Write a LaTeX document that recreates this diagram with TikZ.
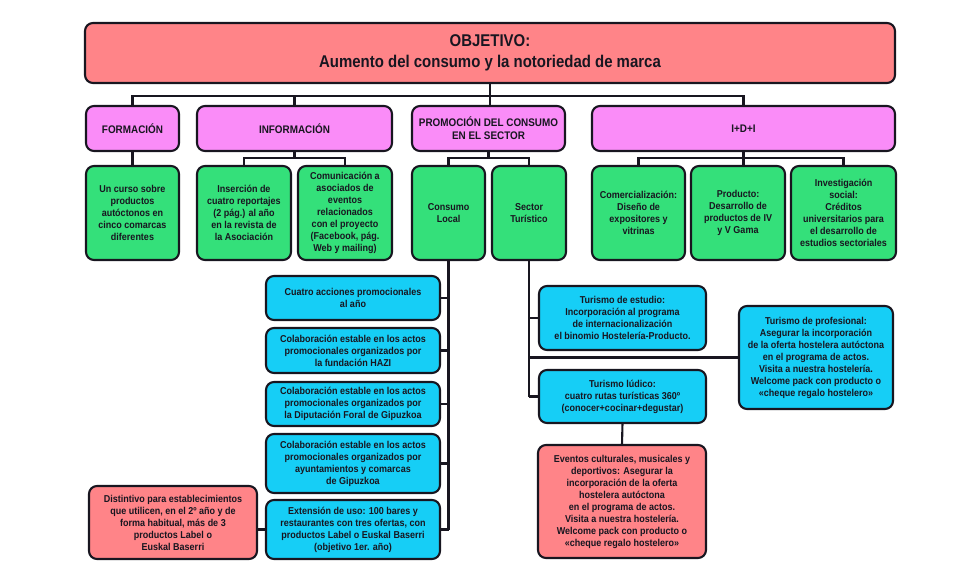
\documentclass[tikz,border=0pt]{standalone}
\usepackage{fontspec}
\setmainfont{Liberation Sans}[FakeStretch=0.9]
\newfontfamily\headfont{Liberation Sans}[FakeStretch=0.88]
\definecolor{objred}{RGB}{255,132,136}
\definecolor{catpink}{RGB}{250,140,248}
\definecolor{actgreen}{RGB}{52,224,122}
\definecolor{actblue}{RGB}{22,206,246}
\definecolor{inkdark}{RGB}{24,22,32}
\tikzset{
  basebox/.style={draw=inkdark, line width=2.1pt, rounded corners=8pt, align=center,
    inner sep=2pt, outer sep=0pt, text=inkdark, font=\bfseries\fontsize{10}{12}\selectfont},
  objbox/.style={basebox, fill=objred, font=\headfont\bfseries\fontsize{17}{21}\selectfont},
  catbox/.style={basebox, fill=catpink, font=\bfseries\fontsize{11}{13}\selectfont},
  greenbox/.style={basebox, fill=actgreen},
  bluebox/.style={basebox, fill=actblue},
  redbox/.style={basebox, fill=objred},
  link/.style={draw=inkdark, line width=2.1pt},
}
\begin{document}
\begin{tikzpicture}[x=1pt,y=1pt,yscale=-1]
\useasboundingbox (0,0) rectangle (980,573);

% Objective
\node[objbox, minimum width=810, minimum height=60] (obj) at (490,53) {OBJETIVO:\\Aumento del consumo y la notoriedad de marca};

% Categories
\node[catbox, minimum width=93, minimum height=45] (form) at (132.5,128.5) {FORMACIÓN};
\node[catbox, minimum width=195, minimum height=45] (info) at (294.5,128.5) {INFORMACIÓN};
\node[catbox, minimum width=153, minimum height=45] (prom) at (488.5,128.5) {PROMOCIÓN DEL CONSUMO\\EN EL SECTOR};
\node[catbox, minimum width=303, minimum height=45] (idi) at (743.5,128.5) {I+D+I};

% Actions (green)
\node[greenbox, minimum width=93, minimum height=94] (frm1) at (132.5,213) {Un curso sobre\\productos\\autóctonos en\\cinco comarcas\\diferentes};
\node[greenbox, minimum width=94, minimum height=94] (inf1) at (244,213) {Inserción de\\cuatro reportajes\\(2 pág.) al año\\en la revista de\\la Asociación};
\node[greenbox, minimum width=94, minimum height=94] (inf2) at (345,213) {Comunicación a\\asociados de\\eventos\\relacionados\\con el proyecto\\(Facebook, pág.\\Web y mailing)};
\node[greenbox, minimum width=73, minimum height=94] (cloc) at (448.5,213) {Consumo\\Local};
\node[greenbox, minimum width=74, minimum height=94] (stur) at (529,213) {Sector\\Turístico};
\node[greenbox, minimum width=93, minimum height=94] (idi1) at (638.5,213) {Comercialización:\\Diseño de\\expositores y\\vitrinas};
\node[greenbox, minimum width=94, minimum height=94] (idi2) at (738,213) {Producto:\\Desarrollo de\\productos de IV\\y V Gama};
\node[greenbox, minimum width=105, minimum height=94] (idi3) at (843.5,213) {Investigación\\social:\\Créditos\\universitarios para\\el desarrollo de\\estudios sectoriales};

% Consumo local (blue)
\node[bluebox, minimum width=174, minimum height=44] (acc1) at (353,298) {Cuatro acciones promocionales\\al año};
\node[bluebox, minimum width=174, minimum height=45] (acc2) at (353,350.5) {Colaboración estable en los actos\\promocionales organizados por\\la fundación HAZI};
\node[bluebox, minimum width=174, minimum height=44] (acc3) at (353,404) {Colaboración estable en los actos\\promocionales organizados por\\la Diputación Foral de Gipuzkoa};
\node[bluebox, minimum width=174, minimum height=59] (acc4) at (353,463.5) {Colaboración estable en los actos\\promocionales organizados por\\ayuntamientos y comarcas\\de Gipuzkoa};
\node[bluebox, minimum width=174, minimum height=59] (ext) at (353,529.5) {Extensión de uso: 100 bares y\\restaurantes con tres ofertas, con\\productos Label o Euskal Baserri\\(objetivo 1er. año)};
\node[redbox, minimum width=168, minimum height=73] (dist) at (173,522.5) {Distintivo para establecimientos\\que utilicen, en el 2º año y de\\forma habitual, más de 3\\productos Label o\\Euskal Baserri};

% Sector turistico (blue)
\node[bluebox, minimum width=167, minimum height=64] (est) at (622.5,318) {Turismo de estudio:\\Incorporación al programa\\de internacionalización\\el binomio Hostelería-Producto.};
\node[bluebox, minimum width=154, minimum height=103] (prof) at (816,357.5) {Turismo de profesional:\\Asegurar la incorporación\\de la oferta hostelera autóctona\\en el programa de actos.\\Visita a nuestra hostelería.\\Welcome pack con producto o\\«cheque regalo hostelero»};
\node[bluebox, minimum width=167, minimum height=53] (lud) at (622.5,396.5) {Turismo lúdico:\\cuatro rutas turísticas 360º\\(conocer+cocinar+degustar)};
\node[redbox, minimum width=168, minimum height=113] (evt) at (622,501.5) {Eventos culturales, musicales y\\deportivos: Asegurar la\\incorporación de la oferta\\hostelera autóctona\\en el programa de actos.\\Visita a nuestra hostelería.\\Welcome pack con producto o\\«cheque regalo hostelero»};

% Connectors
\coordinate (bus) at (0,96);
\draw[link] (form.north) |- (bus -| idi.north) -- (idi.north);
\draw[link] (info.north) -- (info.north |- bus);
\draw[link] (obj.south) -- (obj.south |- prom.north);
\draw[link] (form.south) -- (frm1.north);
\draw[link] (inf1.north) -- ++(0,-8) -| (inf2.north);
\draw[link] (info.south) -- (info.south |- 0,158);
\draw[link] (cloc.north) -- ++(0,-8) -| (stur.north);
\draw[link] (prom.south) -- (prom.south |- 0,158);
\draw[link] (idi1.north) -- ++(0,-8) -| (idi3.north);
\draw[link] (idi.south) -- (idi.south |- idi2.north);
\draw[link] (cloc.south) -- (cloc.south |- ext.east);
\foreach \n in {acc1,acc2,acc3,acc4,ext}
  \draw[link] (\n.east) -- (\n.east -| cloc.south);
\draw[link] (ext.west) -- (ext.west -| dist.east);
\draw[link] (stur.south) -- (stur.south |- lud.west);
\foreach \n in {est,lud,prof}
  \draw[link] (\n.west) -- (\n.west -| stur.south);
\draw[link] (lud.south) -- (evt.north);

\end{tikzpicture}
\end{document}
